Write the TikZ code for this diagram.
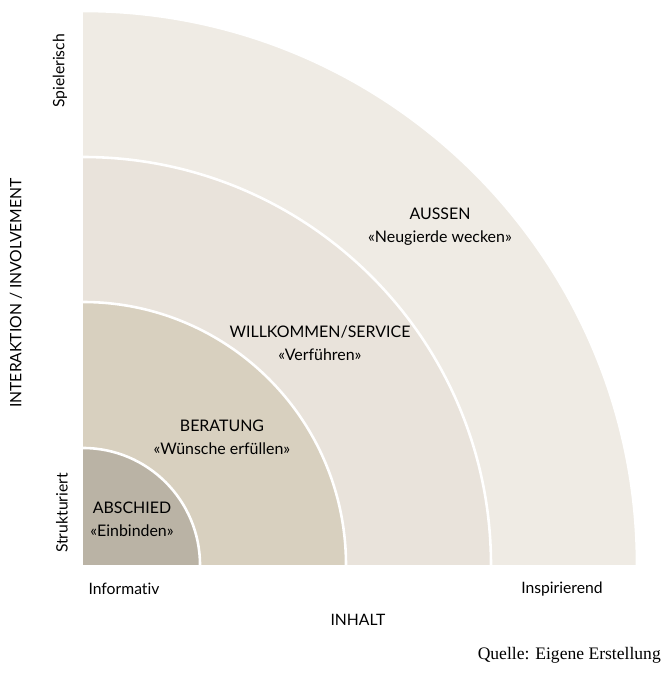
\documentclass[tikz,border=0pt]{standalone}
\usepackage{fontspec}
\setmainfont{Lato}[Ligatures=NoCommon]
\newfontfamily\sourcefont{Liberation Serif}
\definecolor{ringAbschied}{HTML}{BAB3A5}
\definecolor{ringBeratung}{HTML}{D8D0BF}
\definecolor{ringWillkommen}{HTML}{E9E3DB}
\definecolor{ringAussen}{HTML}{EFEBE4}
\begin{document}
\begin{tikzpicture}[x=0.03cm, y=0.03cm, ring label/.style={align=center,inner sep=0pt,font=\fontsize{13.6}{19.5}\selectfont}, axis label/.style={inner sep=0pt,font=\fontsize{13.4}{15}\selectfont}, gap line/.style={white,line width=2.2pt}]
\useasboundingbox (0,0) rectangle (662,686);
\coordinate (o) at (83,121);
\foreach \r/\c in {554/ringAussen, 408/ringWillkommen, 263/ringBeratung, 117/ringAbschied}{
  \fill[\c] (o) -- ++(\r,0) arc[start angle=0, end angle=90, radius=\r] -- cycle;
  \draw[gap line] (o) ++(\r,0) arc[start angle=0, end angle=90, radius=\r];
}
\begin{scope}[every node/.style={ring label}]
\node (aussen) at (440,459) {AUSSEN\\«Neugierde wecken»};
\node (willkommen) at (320,343) {WILLKOMMEN/SERVICE\\«Verführen»};
\node (beratung) at (222,249) {BERATUNG\\«Wünsche erfüllen»};
\node (abschied) at (132,167) {ABSCHIED\\«Einbinden»};
\end{scope}
\node [axis label] (informativ) at (124,97) {Informativ};
\node [axis label] (inspirierend) at (562,97) {Inspirierend};
\node [axis label] (inhalt) at (358,66) {INHALT};
\node [axis label, rotate=90] (spielerisch) at (60,615) {Spielerisch};
\node [axis label, rotate=90] (strukturiert) at (62,173) {Strukturiert};
\node [axis label, rotate=90] (interaktion) at (16,393) {INTERAKTION / INVOLVEMENT};
\node [anchor=east, inner sep=0pt, font=\sourcefont\fontsize{15}{17}\selectfont] (quelle) at (661,31) {Quelle: Eigene Erstellung};
\end{tikzpicture}
\end{document}
